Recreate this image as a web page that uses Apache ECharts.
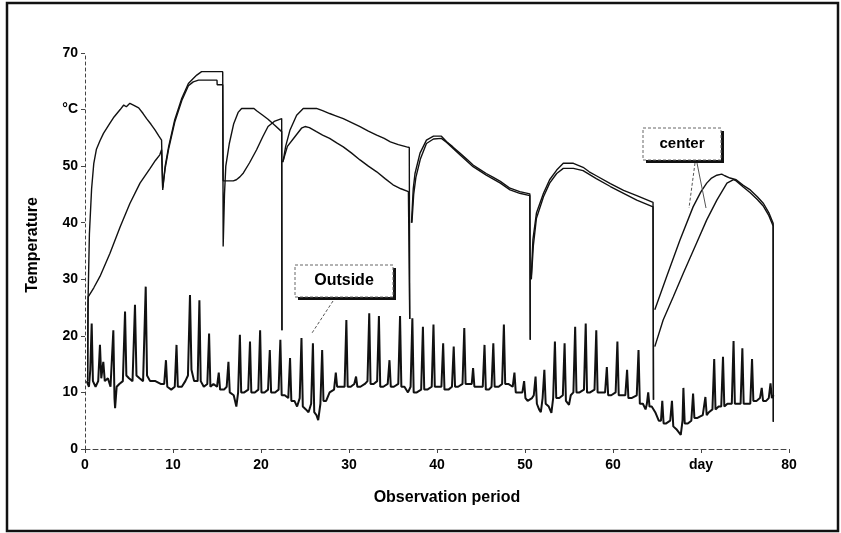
<!DOCTYPE html>
<html><head><meta charset="utf-8">
<script src="https://cdn.jsdelivr.net/npm/echarts/dist/echarts.min.js"></script>
<style>html,body{margin:0;padding:0;background:#fff}#c{width:841px;height:533px}</style>
</head><body><div id="c"></div>
<script>
const xTickLabels = ['0','10','20','30','40','50','60','day','80'];
const yTickLabels = ['0','10','20','30','40','50','°C','70'];

// Outside (ambient) temperature: [day, °C]
const outside = [
[0.2,12],[0.45,11],[0.6,14],[0.76,22.2],[0.9,12],[1.2,11],[1.5,12],[1.7,18.4],[1.85,12.5],[2.08,15.4],[2.25,12],[2.6,12.5],[2.9,11],[3.22,21.0],[3.35,9],[3.42,7.2],[3.6,11],[3.9,11.5],[4.3,12],[4.55,24.3],[4.7,13],[5.0,12.5],[5.4,12],[5.68,25.5],[5.85,13],[6.2,12.5],[6.6,12],[6.9,28.7],[7.05,13],[7.4,12],[8.0,12],[8.6,11.5],[9.0,11.5],[9.2,15.7],[9.35,11],[9.8,10.5],[10.2,11],[10.4,18.4],[10.55,11],[11.0,11],[11.4,12],[11.7,13],[11.93,27.2],[12.1,14],[12.4,12],[12.8,12],[13.0,26.3],[13.15,12],[13.5,11],[13.9,11.5],[14.1,20.4],[14.25,11],[14.6,11.5],[15.0,11],[15.2,13.5],[15.35,10.5],[15.8,10.5],[16.1,11],[16.3,15.4],[16.45,10],[16.9,9.5],[17.2,7.5],[17.4,10],[17.6,20.2],[17.75,10],[18.1,10],[18.55,10.5],[18.75,19.0],[18.9,10],[19.3,10],[19.7,10.5],[19.9,21.0],[20.05,10],[20.4,10],[20.8,10.5],[21.0,17.5],[21.15,10],[21.6,10],[22.0,10.5],[22.2,19.3],[22.35,9.5],[22.7,9.5],[23.1,9],[23.3,16.1],[23.45,8.5],[23.8,8.5],[24.1,7.5],[24.4,9],[24.6,19.6],[24.75,7.5],[25.1,7],[25.4,6.5],[25.7,8],[25.9,18.7],[26.05,6.5],[26.3,6],[26.5,5.1],[26.75,8],[26.95,17.5],[27.1,8.5],[27.4,8.5],[27.8,10],[28.3,10.5],[28.5,13.5],[28.65,11],[29.0,11],[29.5,11],[29.7,22.8],[29.85,11],[30.2,11],[30.6,11.5],[30.8,12.8],[30.95,11],[31.3,11],[31.8,11.5],[32.1,12],[32.3,24.0],[32.45,11.5],[32.8,11.5],[33.2,12],[33.4,23.5],[33.55,11],[33.9,11],[34.4,11.5],[34.6,15.7],[34.75,11],[35.1,11],[35.6,11.5],[35.8,23.5],[35.95,11],[36.3,11],[36.7,10],[37.0,11],[37.2,23.1],[37.35,10],[37.7,10],[38.2,10.5],[38.4,21.6],[38.55,10.5],[38.9,10.5],[39.4,11],[39.6,22.0],[39.75,11],[40.1,11],[40.5,11],[40.7,18.7],[40.85,10.5],[41.3,10.5],[41.7,11],[41.9,18.1],[42.05,11],[42.4,11],[42.9,11.5],[43.1,21.4],[43.25,11.5],[43.6,11.5],[43.95,11.5],[44.1,14.3],[44.25,11],[44.7,11],[45.2,11],[45.4,18.4],[45.55,10.5],[45.9,10.5],[46.2,11],[46.4,18.7],[46.55,11],[47.0,11],[47.4,11.5],[47.6,22.0],[47.75,11.5],[48.1,11.5],[48.6,11],[48.8,13.5],[48.95,10],[49.3,10],[49.7,10],[49.9,12],[50.05,9],[50.3,8.5],[50.8,9],[51.0,9.5],[51.2,12.8],[51.35,8],[51.6,7],[51.8,6.5],[52.0,9],[52.2,14],[52.35,8],[52.7,7.5],[53.0,6.4],[53.2,9],[53.4,19],[53.55,9],[53.9,9],[54.3,9.5],[54.5,18.7],[54.65,8.5],[55.0,7.8],[55.2,9.5],[55.5,10],[55.7,21.6],[55.85,10],[56.2,10],[56.7,10.5],[56.9,22.2],[57.05,10],[57.4,10],[57.9,10.5],[58.1,21.0],[58.25,10],[58.6,10],[59.1,10],[59.3,14.5],[59.45,9.5],[59.8,9.5],[60.3,10],[60.5,19],[60.65,9.5],[61.0,9.5],[61.4,9.5],[61.6,14],[61.75,9],[62.1,9],[62.7,9.5],[62.9,17.5],[63.05,8],[63.4,8],[63.7,7],[63.85,8],[64.0,10],[64.15,7.5],[64.4,7.5],[64.8,6.5],[65.2,5],[65.45,5],[65.6,8.5],[65.75,4.5],[66.0,4.5],[66.5,5],[66.7,8.5],[66.85,4],[67.2,3.5],[67.7,2.5],[67.9,5],[68.0,10.8],[68.15,4.5],[68.5,4.5],[68.9,5],[69.1,9.8],[69.25,5.5],[69.6,5.5],[70.2,6],[70.5,9.2],[70.65,6],[70.9,6.5],[71.3,7],[71.5,15.9],[71.65,7],[72.0,7.5],[72.3,7.5],[72.5,16.3],[72.65,7.5],[73.0,8],[73.5,8],[73.7,19.1],[73.85,8],[74.2,8],[74.5,8],[74.7,17.8],[74.85,8],[75.2,8],[75.6,8],[75.8,15.9],[75.95,8.5],[76.3,8.5],[76.7,9],[76.9,10.8],[77.05,8.5],[77.4,8.5],[77.7,9],[77.9,11.6],[78.05,9],[78.25,9.5]
];

// Centre of windrow, sensor A: [day, °C]
const centerA = [
[0.3,12],[0.33,25],[0.5,38],[0.75,46],[1.0,50.5],[1.3,53],[1.7,54.5],[2.1,55.8],[2.8,57.5],[3.3,58.7],[4.0,60.0],[4.4,60.8],[4.7,60.5],[5.1,61.1],[5.5,60.8],[6.1,60.3],[6.6,59.3],[7.0,58.4],[7.5,57.4],[7.95,56.4],[8.4,55.3],[8.7,54.6],[8.83,45.8],[9.1,49.9],[9.5,53.4],[10.2,58.2],[11.0,62.0],[11.75,64.6],[12.3,65.5],[12.7,66.1],[13.25,66.7],[15.65,66.7],[15.7,35.8],[15.85,45],[16.0,50],[16.4,54],[16.9,57.5],[17.4,59.5],[17.8,60.2],[19.2,60.2],[19.5,59.8],[20.2,59.0],[20.8,58.3],[21.5,57.3],[22.35,56.1],[22.38,21],null,
[22.5,50.7],[22.8,53.5],[23.3,56.4],[24.05,59.0],[24.8,60.2],[26.3,60.2],[27.0,59.8],[27.8,59.3],[28.5,58.9],[29.35,58.4],[30.3,57.7],[31.25,57.0],[32.2,56.2],[33.15,55.5],[34.0,54.9],[34.7,54.3],[35.6,53.8],[36.55,53.4],[36.85,53.3],[36.9,23],null,
[37.1,40],[37.3,46],[37.5,48.7],[38.07,52.3],[38.8,54.6],[39.6,55.3],[40.5,55.3],[41.1,54.3],[41.8,53.4],[42.6,52.3],[43.4,51.2],[44.1,50.2],[44.9,49.4],[45.6,48.7],[46.4,48.0],[47.2,47.3],[48.3,46.1],[49.4,45.5],[50.55,45.1],[50.6,19.3],null,
[50.7,30],[50.9,37],[51.3,41.7],[52.1,45.2],[52.8,47.6],[53.6,49.3],[54.35,50.5],[55.5,50.5],[56.6,49.8],[57.3,49.0],[58.1,48.3],[59.7,46.9],[61.2,45.7],[62.7,44.8],[64.55,43.6],[64.6,8.7],null,
[64.75,24.6],[66.1,30.5],[67.6,36.9],[69.1,42.8],[70.0,45.5],[70.65,47.0],[71.2,47.9],[71.8,48.4],[72.35,48.6],[72.7,48.3],[73.3,47.9],[74.0,47.6],[74.8,46.6],[75.6,45.8],[76.4,44.6],[77.1,43.4],[77.7,41.8],[78.2,39.9],[78.22,4.8]
];

// Centre of windrow, sensor B: [day, °C]
const centerB = [
[0.3,12],[0.36,26.9],[1.0,28.5],[1.7,30.5],[2.84,34.6],[4.0,39.3],[5.1,43.4],[6.25,47.0],[7.4,49.6],[8.0,51.0],[8.5,52.0],[8.7,52.9],[8.83,46.2],[9.1,49.5],[9.5,53.0],[10.2,57.8],[11.0,61.6],[11.75,64.2],[12.3,64.9],[12.9,65.2],[15.0,65.2],[15.02,64.4],[15.65,64.4],[15.7,47.4],[16.85,47.4],[17.2,47.6],[17.6,48.1],[18.0,48.8],[18.7,50.6],[19.5,52.9],[20.2,55.2],[20.8,57.0],[21.5,57.9],[22.35,58.4],[22.38,21],null,
[22.55,51.1],[23.0,53.5],[23.85,55.2],[24.6,56.7],[25.0,57.0],[25.5,56.8],[26.3,56.1],[27.0,55.5],[27.8,54.9],[28.6,54.1],[29.35,53.4],[30.3,52.3],[31.25,51.1],[32.2,50.0],[33.15,49.0],[34.1,47.8],[35.0,46.7],[35.9,46.0],[36.75,45.5],[36.85,45.4],[36.9,23],null,
[37.15,40],[37.35,45],[37.6,48],[38.1,51.2],[38.8,54.0],[39.6,54.8],[40.5,54.9],[41.1,54.2],[42.6,52.0],[44.1,49.9],[45.6,48.4],[47.2,47.0],[48.3,45.8],[49.4,45.2],[50.55,44.8],[50.6,19.3],null,
[50.72,30],[50.95,36],[51.3,40.8],[52.1,44.6],[52.8,47.0],[53.6,48.7],[54.35,49.6],[55.5,49.6],[56.6,49.2],[58.1,47.8],[59.7,46.4],[61.2,45.2],[62.7,44.0],[64.55,42.8],[64.6,8.7],null,
[64.75,18.1],[65.7,22.8],[66.85,26.9],[68.0,31.1],[69.5,36.4],[70.65,40.5],[71.8,44.0],[72.95,47.0],[73.7,47.6],[74.0,47.4],[74.8,46.3],[75.6,45.3],[76.4,44.1],[77.1,42.9],[77.7,41.3],[78.2,39.4],[78.22,4.8]
];

const FONT = "'Liberation Sans', Arial, Helvetica, sans-serif";
const chart = echarts.init(document.getElementById('c'), null, {renderer: 'canvas'});
const lineSeries = (name, data, w) => ({
  name, type: 'line', data, showSymbol: false, symbol: 'none', connectNulls: false,
  lineStyle: {color: '#111', width: w}, silent: true, animation: false
});
chart.setOption({
  animation: false,
  backgroundColor: '#ffffff',
  grid: {left: 85, right: 52, top: 53, bottom: 84, containLabel: false},
  xAxis: {
    type: 'value', min: 0, max: 80, interval: 10,
    axisLine: {show: true, onZero: false, lineStyle: {color: '#444', width: 1, type: [5, 3]}},
    axisTick: {show: true, length: 4, lineStyle: {color: '#444'}},
    axisLabel: {formatter: v => xTickLabels[Math.round(v / 10)], color: '#000', fontWeight: 'bold', fontSize: 14, fontFamily: FONT, margin: 9},
    splitLine: {show: false}
  },
  yAxis: {
    type: 'value', min: 0, max: 70, interval: 10,
    axisLine: {show: true, onZero: false, lineStyle: {color: '#444', width: 1, type: [3, 3]}},
    axisTick: {show: true, length: 4, lineStyle: {color: '#444'}},
    axisLabel: {formatter: v => yTickLabels[Math.round(v / 10)], color: '#000', fontWeight: 'bold', fontSize: 14, fontFamily: FONT, margin: 7},
    splitLine: {show: false}
  },
  series: [
    lineSeries('Outside', outside, 2),
    lineSeries('center A', centerA, 1.4),
    lineSeries('center B', centerB, 1.4)
  ],
  graphic: [
    {type: 'rect', silent: true, z: 100, shape: {x: 7, y: 3, width: 831, height: 528}, style: {fill: 'none', stroke: '#111', lineWidth: 2.5}},
    {type: 'text', silent: true, z: 100, x: 447, y: 498, style: {text: 'Observation period', font: 'bold 16px ' + FONT, fill: '#000', textAlign: 'center', textVerticalAlign: 'middle'}},
    {type: 'text', silent: true, z: 100, x: 33, y: 245, rotation: Math.PI / 2, style: {text: 'Temperature', font: 'bold 16px ' + FONT, fill: '#000', textAlign: 'center', textVerticalAlign: 'middle'}},
    // Outside label
    {type: 'rect', silent: true, z: 100, shape: {x: 298, y: 268, width: 98, height: 32}, style: {fill: '#111'}},
    {type: 'rect', silent: true, z: 101, shape: {x: 295, y: 265, width: 98, height: 32}, style: {fill: '#fff', stroke: '#666', lineWidth: 1, lineDash: [3, 2]}},
    {type: 'text', silent: true, z: 102, x: 344, y: 281, style: {text: 'Outside', font: 'bold 16px ' + FONT, fill: '#000', textAlign: 'center', textVerticalAlign: 'middle'}},
    {type: 'line', silent: true, z: 100, shape: {x1: 333, y1: 301, x2: 312, y2: 333}, style: {stroke: '#555', lineWidth: 1, lineDash: [3, 2]}},
    // center label
    {type: 'rect', silent: true, z: 100, shape: {x: 646, y: 131, width: 78, height: 32}, style: {fill: '#111'}},
    {type: 'rect', silent: true, z: 101, shape: {x: 643, y: 128, width: 78, height: 32}, style: {fill: '#fff', stroke: '#666', lineWidth: 1, lineDash: [3, 2]}},
    {type: 'text', silent: true, z: 102, x: 682, y: 144, style: {text: 'center', font: 'bold 15px ' + FONT, fill: '#000', textAlign: 'center', textVerticalAlign: 'middle'}},
    {type: 'line', silent: true, z: 100, shape: {x1: 695, y1: 163, x2: 689, y2: 208}, style: {stroke: '#555', lineWidth: 1, lineDash: [3, 2]}},
    {type: 'line', silent: true, z: 100, shape: {x1: 697, y1: 163, x2: 706, y2: 208}, style: {stroke: '#555', lineWidth: 1}}
  ]
});
</script>
</body></html>
